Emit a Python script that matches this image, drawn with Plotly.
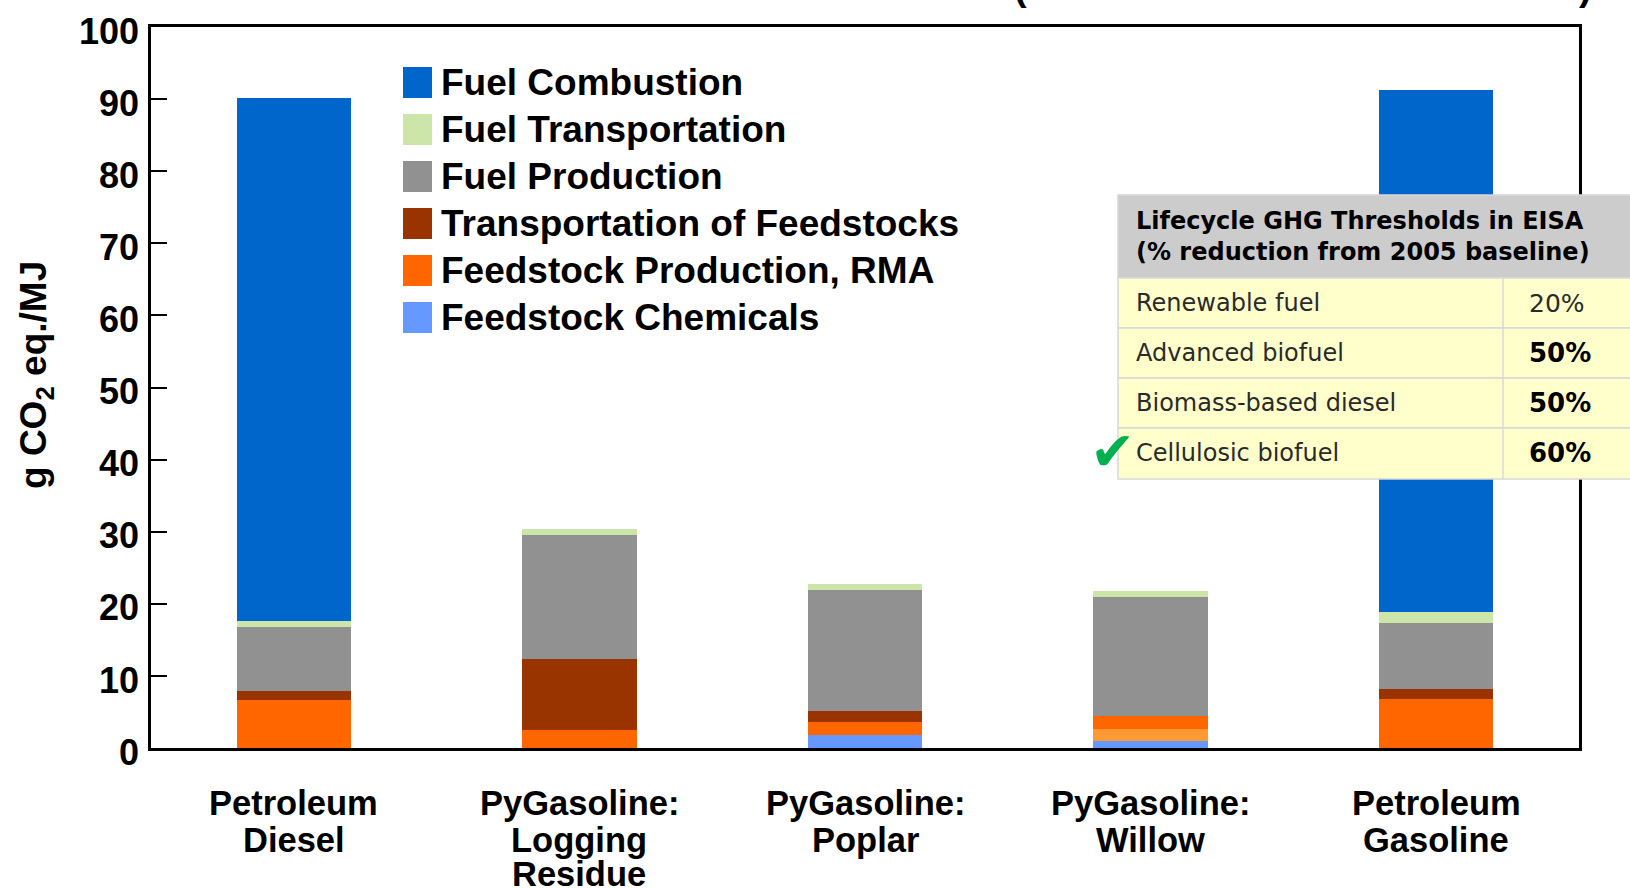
import plotly.graph_objects as go

# ---------------- data ----------------
categories = ["Petroleum Diesel", "PyGasoline: Logging Residue", "PyGasoline: Poplar",
              "PyGasoline: Willow", "Petroleum Gasoline"]
label_lines = [["Petroleum", "Diesel"], ["PyGasoline:", "Logging", "Residue"],
               ["PyGasoline:", "Poplar"], ["PyGasoline:", "Willow"], ["Petroleum", "Gasoline"]]

feedstock_chemicals = [0.0, 0.0, 1.8, 1.0, 0.0]
feedstock_other = [0.0, 0.0, 0.0, 1.7, 0.0]
feedstock_production = [6.7, 2.5, 1.8, 1.7, 6.8]
transport_feedstocks = [1.2, 9.9, 1.6, 0.0, 1.4]
fuel_production = [8.9, 17.2, 16.7, 16.6, 9.2]
fuel_transportation = [0.8, 0.8, 0.9, 0.8, 1.5]
fuel_combustion = [72.5, 0.0, 0.0, 0.0, 72.3]

legend_names = ["Fuel Combustion", "Fuel Transportation", "Fuel Production",
                "Transportation of Feedstocks", "Feedstock Production, RMA", "Feedstock Chemicals"]
legend_colors = ["#0066CC", "#CCE5A8", "#919191", "#993300", "#FF6600", "#6699FF"]

y_ticks = [0, 10, 20, 30, 40, 50, 60, 70, 80, 90, 100]

table_header = ["Lifecycle GHG Thresholds in EISA", "(% reduction from 2005 baseline)"]
table_rows = ["Renewable fuel", "Advanced biofuel", "Biomass-based diesel", "Cellulosic biofuel"]
table_values = ["20%", "50%", "50%", "60%"]
table_bold = [False, True, True, True]

# ---------------- layout geometry (pixels) ----------------
W, H = 1630, 888
L, R, T, B = 151, 1579, 27, 748


def px(x):
    return (x - L) / (R - L)


def py(y):
    return (B - y) / (B - T)


ARIAL = "Liberation Sans, Arial, sans-serif"
VERD = "DejaVu Sans, Verdana, sans-serif"

fig = go.Figure()
series = [
    ("Feedstock Chemicals", feedstock_chemicals, "#6699FF"),
    ("Feedstock Production (other)", feedstock_other, "#FF9933"),
    ("Feedstock Production, RMA", feedstock_production, "#FF6600"),
    ("Transportation of Feedstocks", transport_feedstocks, "#993300"),
    ("Fuel Production", fuel_production, "#919191"),
    ("Fuel Transportation", fuel_transportation, "#CCE5A8"),
    ("Fuel Combustion", fuel_combustion, "#0066CC"),
]
for name, vals, col in series:
    fig.add_trace(go.Bar(x=categories, y=vals, name=name, marker_color=col,
                         marker_line_width=0, showlegend=False))

shapes = []
ann = []

# x category labels (one annotation per line for tight line spacing)
line_y = [803, 840, 874]
for cat, lines in zip(categories, label_lines):
    for i, t in enumerate(lines):
        ann.append(dict(x=cat, xref="x", y=py(line_y[i]), yref="paper", text=t,
                        showarrow=False, xanchor="center", yanchor="middle",
                        font=dict(family=ARIAL, size=34.5, color="black", weight="bold")))

# y title
ann.append(dict(x=px(36), y=py(375), xref="paper", yref="paper",
                text="g CO<sub>2</sub> eq./MJ", textangle=-90, showarrow=False,
                xanchor="center", yanchor="middle",
                font=dict(family=ARIAL, size=37, color="black", weight="bold")))

# manual legend
for i, (nm, col) in enumerate(zip(legend_names, legend_colors)):
    cy = 82.5 + i * 47.0
    shapes.append(dict(type="rect", xref="paper", yref="paper",
                       x0=px(403), x1=px(432), y0=py(cy - 15.5), y1=py(cy + 15.5),
                       fillcolor=col, line=dict(width=0)))
    ann.append(dict(x=px(439), y=py(cy), xref="paper", yref="paper", text=nm,
                    showarrow=False, xanchor="left", yanchor="middle",
                    font=dict(family=ARIAL, size=37, color="black", weight="bold")))

# table
tx0, tx1, tdiv = 1118, 1650, 1503
shapes.append(dict(type="rect", xref="paper", yref="paper", x0=px(tx0), x1=px(tx1),
                   y0=py(278), y1=py(195), fillcolor="#CCCCCC",
                   line=dict(width=1.5, color="#D8D8D8"), layer="above"))
row_edges = [278, 328, 378, 428, 479]
for i in range(4):
    shapes.append(dict(type="rect", xref="paper", yref="paper", x0=px(tx0), x1=px(tx1),
                       y0=py(row_edges[i + 1]), y1=py(row_edges[i]), fillcolor="#FFFFCC",
                       line=dict(width=1.5, color="#D8D8D8"), layer="above"))
shapes.append(dict(type="line", xref="paper", yref="paper", x0=px(tdiv), x1=px(tdiv),
                   y0=py(278), y1=py(479), line=dict(width=1.5, color="#D8D8D8"), layer="above"))
for j, t in enumerate(table_header):
    ann.append(dict(x=px(1134), y=py(221 + 31 * j), xref="paper", yref="paper", text=t,
                    showarrow=False, xanchor="left", yanchor="middle",
                    font=dict(family=VERD, size=24, color="black", weight="bold")))
for i, (rn, rv, bd) in enumerate(zip(table_rows, table_values, table_bold)):
    cy = (row_edges[i] + row_edges[i + 1]) / 2
    ann.append(dict(x=px(1134), y=py(cy), xref="paper", yref="paper", text=rn,
                    showarrow=False, xanchor="left", yanchor="middle",
                    font=dict(family=VERD, size=24, color="#2a2a2a")))
    ann.append(dict(x=px(1527), y=py(cy), xref="paper", yref="paper", text=rv,
                    showarrow=False, xanchor="left", yanchor="middle",
                    font=dict(family=VERD, size=26 if bd else 25,
                              color="black" if bd else "#2a2a2a",
                              weight="bold" if bd else "normal")))
# check mark
ann.append(dict(x=px(1112), y=py(452), xref="paper", yref="paper", text="✔",
                showarrow=False, xanchor="center", yanchor="middle",
                font=dict(family=VERD, size=54, color="#00B050")))

# partially cut-off parentheses at the top
for xp, ch in [(1021, "("), (1585, ")")]:
    ann.append(dict(x=px(xp), y=py(-13), xref="paper", yref="paper", text=ch,
                    showarrow=False, xanchor="center", yanchor="middle",
                    font=dict(family=ARIAL, size=38, color="black", weight="bold")))

fig.update_layout(
    width=W, height=H,
    margin=dict(l=L, r=W - R, t=T, b=H - B, pad=0, autoexpand=False),
    barmode="stack", bargap=0.6,
    plot_bgcolor="white", paper_bgcolor="white",
    showlegend=False,
    shapes=shapes, annotations=ann,
    xaxis=dict(showticklabels=False, ticks="", showline=True, linecolor="black",
               linewidth=3, mirror=True, showgrid=False, zeroline=False, automargin=False),
    yaxis=dict(range=[0, 100], tickvals=y_ticks, ticktext=[str(v) for v in y_ticks],
               ticks="inside", ticklen=16, tickwidth=2, tickcolor="black",
               showline=True, linecolor="black", linewidth=2.5, mirror=True,
               showgrid=False, zeroline=False, ticklabelstandoff=2, ticklabelshift=4,
               automargin=False,
               tickfont=dict(family=ARIAL, size=36, color="black", weight="bold")),
)

fig.write_html("out.html",
               config={"displayModeBar": False},
               post_script="document.body.style.margin='0px';"
                           "document.body.style.overflow='hidden';")
